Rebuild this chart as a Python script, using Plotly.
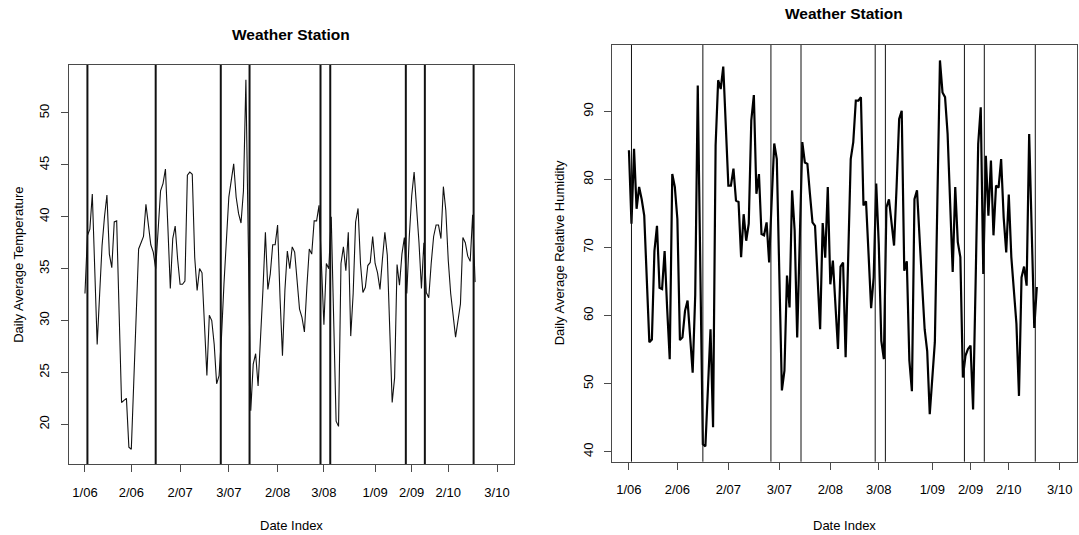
import plotly.graph_objects as go

# ---------------- data ----------------
day_index = list(range(1, 162))

temperature = [
    32.6, 38.2, 38.8, 42.2, 35.0, 27.7, 32.5, 37.2, 40.0, 42.1,
    36.4, 35.1, 39.5, 39.6, 30.8, 22.1, 22.3, 22.5, 17.8, 17.6,
    24.0, 30.5, 36.9, 37.5, 38.1, 41.2, 39.3, 37.3, 36.6, 35.0,
    38.7, 42.5, 43.2, 44.6, 39.0, 33.1, 37.9, 39.1, 35.9, 33.5,
    33.5, 33.8, 44.0, 44.3, 44.1, 36.1, 32.9, 35.0, 34.6, 29.5,
    24.7, 30.5, 30.0, 27.7, 23.9, 24.7, 28.5, 33.5, 38.0, 41.9,
    43.5, 45.1, 41.9, 40.3, 39.4, 42.5, 53.2, 37.0, 21.3, 25.8,
    26.8, 23.7, 28.0, 33.0, 38.5, 33.0, 34.5, 37.3, 37.3, 39.2,
    32.2, 26.6, 32.9, 36.7, 35.0, 37.1, 36.6, 33.8, 31.1, 30.3,
    28.9, 33.2, 36.9, 36.4, 39.6, 39.6, 41.1, 35.3, 29.6, 35.5,
    35.0, 40.0, 31.0, 20.3, 19.8, 35.5, 37.1, 34.8, 38.5, 28.5,
    32.6, 39.5, 40.8, 35.5, 32.7, 33.2, 35.3, 35.6, 38.1, 35.5,
    34.6, 33.0, 35.9, 38.5, 36.3, 29.7, 22.1, 24.5, 35.4, 33.4,
    36.4, 38.0, 32.6, 38.0, 42.0, 44.3, 41.0, 37.5, 33.1, 37.5,
    32.7, 32.2, 35.5, 38.1, 39.2, 39.2, 37.9, 42.9, 40.6, 35.8,
    32.6, 30.3, 28.4, 30.0, 31.6, 38.0, 37.5, 36.2, 35.7, 40.2,
    33.7,
]

humidity = [
    84.3, 73.5, 84.5, 75.7, 78.9, 77.1, 74.7, 65.5, 56.1, 56.5,
    69.5, 73.2, 64.1, 63.9, 69.5, 61.0, 53.6, 80.8, 78.9, 74.2,
    56.4, 56.8, 60.7, 62.2, 56.3, 51.6, 63.0, 93.8, 67.0, 41.1,
    40.8, 49.0, 58.0, 43.6, 85.0, 94.6, 93.3, 96.6, 88.0, 79.1,
    79.1, 81.6, 76.9, 76.7, 68.6, 74.9, 71.0, 73.5, 88.7, 92.4,
    77.9, 80.8, 72.0, 71.8, 73.7, 67.8, 77.0, 85.3, 83.0, 66.0,
    49.0, 51.9, 65.9, 61.2, 78.4, 72.5, 56.8, 71.0, 85.5, 82.5,
    82.3, 77.9, 73.7, 73.2, 65.0, 58.0, 73.6, 68.5, 78.9, 64.6,
    68.1, 62.0, 55.1, 67.2, 67.8, 53.9, 68.0, 83.0, 85.5, 91.6,
    91.6, 92.1, 76.2, 76.8, 69.0, 61.1, 65.6, 79.4, 70.5, 56.3,
    53.6, 75.9, 77.1, 74.0, 70.3, 79.0, 88.9, 90.1, 66.6, 68.0,
    53.4, 48.9, 77.1, 78.4, 70.5, 64.6, 58.0, 54.8, 45.5, 51.0,
    56.1, 77.0, 97.5, 92.8, 92.1, 86.7, 77.0, 66.4, 78.9, 70.8,
    68.6, 50.9, 54.1, 55.1, 55.6, 46.2, 65.0, 85.2, 90.6, 66.1,
    83.5, 74.7, 82.8, 71.8, 79.1, 78.8, 83.0, 74.4, 69.3, 77.8,
    68.6, 64.1, 58.8, 48.2, 65.6, 67.2, 64.4, 86.7, 72.0, 58.2,
    64.2,
]

tick_positions = [1, 20, 40, 60, 80, 99, 120, 135, 150, 170]
tick_labels = ["1/06", "2/06", "2/07", "3/07", "2/08", "3/08",
               "1/09", "2/09", "2/10", "3/10"]

event_positions = [2, 30, 56.7, 68.5, 97.6, 101.6, 132.6, 140.4, 160.4]

temp_y_ticks = [20, 25, 30, 35, 40, 45, 50]
hum_y_ticks = [40, 50, 60, 70, 80, 90]

title_text = "Weather Station"
x_title = "Date Index"
temp_title = "Daily Average Temperature"
hum_title = "Daily Average Relative Humidity"

# ---------------- helpers ----------------
W, H = 1079, 535


def r_range(vals):
    lo, hi = min(vals), max(vals)
    pad = 0.04 * (hi - lo)
    return [lo - pad, hi + pad]


def px(xp):
    return xp / W


def py(yp):
    return 1 - yp / H


FONT = "Liberation Sans, Arial, Helvetica, sans-serif"
AXIS_COL = "#4a4a4a"

x_range = r_range(tick_positions)

# panel boxes in pixels: (left, top, right, bottom)
left_box = (68.5, 65.0, 513.5, 464.0)
right_box = (611.7, 45.0, 1077.0, 461.7)

fig = go.Figure()

fig.add_trace(go.Scatter(
    x=day_index, y=temperature, mode="lines",
    line=dict(color="#111111", width=1.1),
    xaxis="x", yaxis="y", showlegend=False, hoverinfo="skip"))

fig.add_trace(go.Scatter(
    x=day_index, y=humidity, mode="lines",
    line=dict(color="#000000", width=2.2),
    xaxis="x2", yaxis="y2", showlegend=False, hoverinfo="skip"))


def xaxis_cfg(box, anchor):
    return dict(
        domain=[px(box[0]), px(box[2])], anchor=anchor,
        range=x_range, tickmode="array", tickvals=tick_positions,
        ticktext=tick_labels, ticks="outside", ticklen=7, tickwidth=1,
        tickcolor=AXIS_COL, showline=True, linecolor=AXIS_COL, linewidth=1,
        mirror=True, showgrid=False, zeroline=False,
        tickfont=dict(family=FONT, size=13, color="#000"),
        ticklabelstandoff=9,
    )


def yaxis_cfg(box, anchor, rng, ticks):
    return dict(
        domain=[py(box[3]), py(box[1])], anchor=anchor,
        range=rng, tickmode="array", tickvals=ticks,
        ticks="outside", ticklen=7, tickwidth=1, tickcolor=AXIS_COL,
        showline=True, linecolor=AXIS_COL, linewidth=1, mirror=True,
        showgrid=False, zeroline=False, tickangle=-90,
        tickfont=dict(family=FONT, size=13, color="#000"),
        ticklabelstandoff=6,
    )


fig.update_layout(
    width=W, height=H,
    margin=dict(l=0, r=0, t=0, b=0),
    paper_bgcolor="white", plot_bgcolor="white",
    xaxis=xaxis_cfg(left_box, "y"),
    yaxis=yaxis_cfg(left_box, "x", r_range(temperature), temp_y_ticks),
    xaxis2=xaxis_cfg(right_box, "y2"),
    yaxis2=yaxis_cfg(right_box, "x2", r_range(humidity), hum_y_ticks),
)

shapes = []
for xv in event_positions:
    shapes.append(dict(type="line", xref="x", yref="y domain",
                       x0=xv, x1=xv, y0=0, y1=1,
                       line=dict(color="#111111", width=2)))
    shapes.append(dict(type="line", xref="x2", yref="y2 domain",
                       x0=xv, x1=xv, y0=0, y1=1,
                       line=dict(color="#111111", width=1)))
fig.update_layout(shapes=shapes)

ann = []
for box, title_y, ylab, ylab_x in [
        (left_box, 34.6, temp_title, 18.3),
        (right_box, 13.8, hum_title, 559.0)]:
    cx = (box[0] + box[2]) / 2
    cy = (box[1] + box[3]) / 2
    ann.append(dict(text="<b>" + title_text + "</b>", x=px(cx), y=py(title_y),
                    xref="paper", yref="paper", xanchor="center",
                    yanchor="middle", showarrow=False,
                    font=dict(family=FONT, size=15.5, color="#000")))
    ann.append(dict(text=x_title, x=px(cx), y=py(525), xref="paper",
                    yref="paper", xanchor="center", yanchor="middle",
                    showarrow=False,
                    font=dict(family=FONT, size=13, color="#000")))
    ann.append(dict(text=ylab, x=px(ylab_x), y=py(cy), xref="paper",
                    yref="paper", xanchor="center", yanchor="middle",
                    textangle=-90, showarrow=False,
                    font=dict(family=FONT, size=13, color="#000")))
fig.update_layout(annotations=ann)

fig.write_html("out.html", config={"displayModeBar": False})
